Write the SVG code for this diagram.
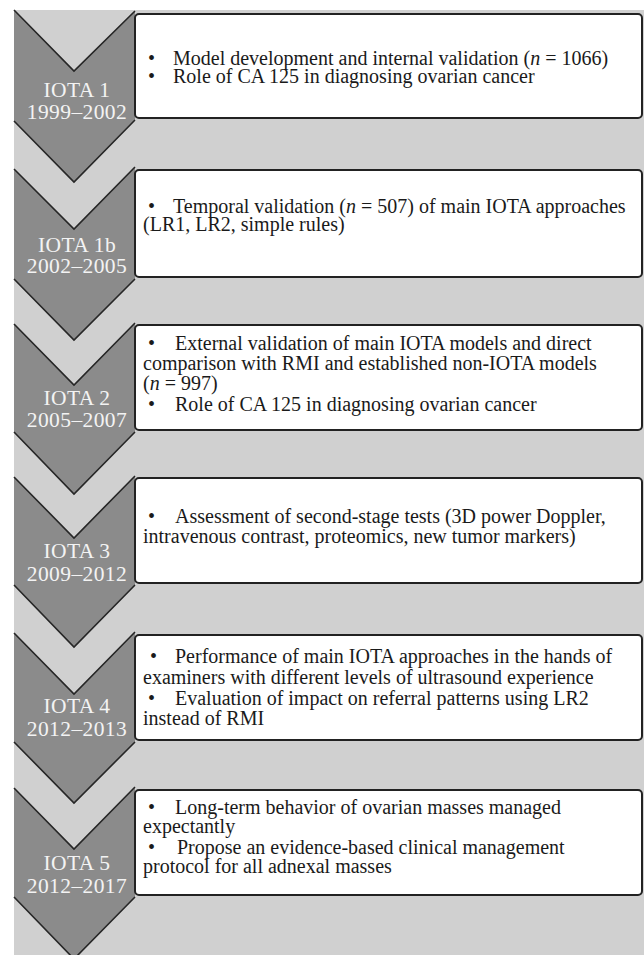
<svg xmlns="http://www.w3.org/2000/svg" width="644" height="955" viewBox="0 0 644 955">
<style>
.chev{fill:#8b8b8b;stroke:none}
.edge{fill:none;stroke:#262626;stroke-width:1.6;stroke-linejoin:miter}
.box{fill:#ffffff;stroke:#222222;stroke-width:2}
.lbl{font-family:"Liberation Serif","Times New Roman",serif;font-size:21.5px;fill:#f3f3f3;text-anchor:middle;letter-spacing:0.4px}
.t{font-family:"Liberation Serif","Times New Roman",serif;font-size:20px;fill:#1a1a1a}
.i{font-style:italic}
</style>
<rect x="0" y="0" width="644" height="955" fill="#ffffff"/>
<rect x="14" y="10" width="630" height="945" fill="#d0d0d0"/>

<g id="iota1">
<polygon class="chev" points="14,10 74,71 135,11 135,120 74,182 14,121"/>
<polyline class="edge" points="14,10 74,71 135,11"/>
<polyline class="edge" points="14,121 74,182 135,120"/>
<rect class="box" x="135" y="14" width="507" height="104" rx="4"/>
<text class="lbl" x="77" y="97">IOTA 1<tspan x="77" y="119">1999–2002</tspan></text>
<text class="t"><tspan x="148" y="65">•</tspan><tspan x="173" y="65">Model development and internal validation (<tspan class="i">n</tspan> = 1066)</tspan><tspan x="148" y="83">•</tspan><tspan x="173" y="83">Role of CA 125 in diagnosing ovarian cancer</tspan></text>
</g>

<g id="iota1b">
<polygon class="chev" points="14,169 74,229 135,167 135,279 74,340 14,279"/>
<polyline class="edge" points="14,169 74,229 135,167"/>
<polyline class="edge" points="14,279 74,340 135,279"/>
<rect class="box" x="135" y="170" width="507" height="107" rx="4"/>
<text class="lbl" x="77" y="252">IOTA 1b<tspan x="77" y="273">2002–2005</tspan></text>
<text class="t"><tspan x="148" y="213">•</tspan><tspan x="173" y="213">Temporal validation (<tspan class="i">n</tspan> = 507) of main IOTA approaches</tspan><tspan x="143" y="231">(LR1, LR2, simple rules)</tspan></text>
</g>

<g id="iota2">
<polygon class="chev" points="14,324 74,385 135,323 135,432 74,494 14,432"/>
<polyline class="edge" points="14,324 74,385 135,323"/>
<polyline class="edge" points="14,432 74,494 135,432"/>
<rect class="box" x="135" y="325" width="507" height="105" rx="4"/>
<text class="lbl" x="77" y="405">IOTA 2<tspan x="77" y="427">2005–2007</tspan></text>
<text class="t"><tspan x="148" y="350">•</tspan><tspan x="175" y="350">External validation of main IOTA models and direct</tspan><tspan x="143" y="370">comparison with RMI and established non-IOTA models</tspan><tspan x="143" y="390">(<tspan class="i">n</tspan> = 997)</tspan><tspan x="148" y="411">•</tspan><tspan x="175" y="411">Role of CA 125 in diagnosing ovarian cancer</tspan></text>
</g>

<g id="iota3">
<polygon class="chev" points="14,477 74,538 135,476 135,585 74,647 14,585"/>
<polyline class="edge" points="14,477 74,538 135,476"/>
<polyline class="edge" points="14,585 74,647 135,585"/>
<rect class="box" x="135" y="478" width="507" height="105" rx="4"/>
<text class="lbl" x="77" y="558">IOTA 3<tspan x="77" y="581">2009–2012</tspan></text>
<text class="t"><tspan x="148" y="523">•</tspan><tspan x="175" y="523">Assessment of second-stage tests (3D power Doppler,</tspan><tspan x="143" y="543">intravenous contrast, proteomics, new tumor markers)</tspan></text>
</g>

<g id="iota4">
<polygon class="chev" points="14,633 74,694 135,632 135,742 74,803 14,742"/>
<polyline class="edge" points="14,633 74,694 135,632"/>
<polyline class="edge" points="14,742 74,803 135,742"/>
<rect class="box" x="135" y="635" width="507" height="105" rx="4"/>
<text class="lbl" x="77" y="713">IOTA 4<tspan x="77" y="736">2012–2013</tspan></text>
<text class="t"><tspan x="150" y="663">•</tspan><tspan x="175" y="663">Performance of main IOTA approaches in the hands of</tspan><tspan x="143" y="684">examiners with different levels of ultrasound experience</tspan><tspan x="148" y="705">•</tspan><tspan x="175" y="705">Evaluation of impact on referral patterns using LR2</tspan><tspan x="143" y="725">instead of RMI</tspan></text>
</g>

<g id="iota5">
<polygon class="chev" points="14,788 74,849 135,787 135,897 74,959 14,897"/>
<polyline class="edge" points="14,788 74,849 135,787"/>
<polyline class="edge" points="14,897 74,959 135,897"/>
<rect class="box" x="135" y="790" width="507" height="105" rx="4"/>
<text class="lbl" x="77" y="870">IOTA 5<tspan x="77" y="893">2012–2017</tspan></text>
<text class="t"><tspan x="148" y="814">•</tspan><tspan x="175" y="814">Long-term behavior of ovarian masses managed</tspan><tspan x="143" y="833">expectantly</tspan><tspan x="148" y="854">•</tspan><tspan x="177" y="854">Propose an evidence-based clinical management</tspan><tspan x="143" y="873">protocol for all adnexal masses</tspan></text>
</g>
</svg>
